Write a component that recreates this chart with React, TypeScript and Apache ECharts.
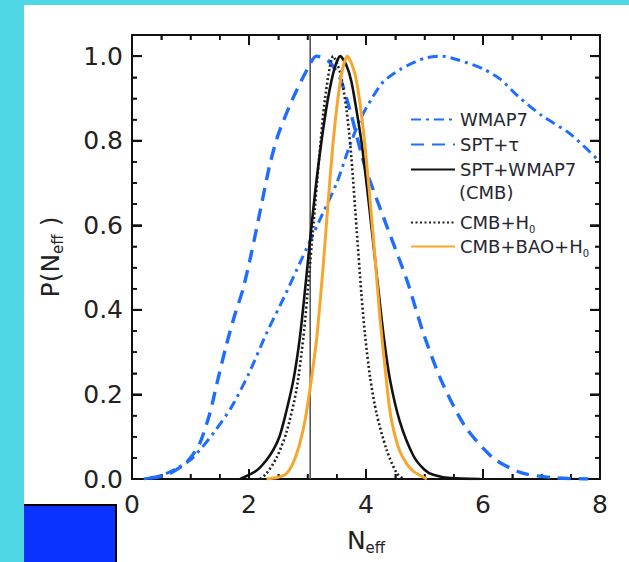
import React, { useEffect, useRef } from "react";
import * as echarts from "echarts";

// ---- data ----
const wmapX = [0.2, 0.5, 0.8, 1.0, 1.2, 1.4, 1.7, 2.0, 2.3, 2.6, 2.9, 3.2, 3.5, 3.7, 3.9, 4.1, 4.3, 4.6, 5.0, 5.3, 5.6, 6.0, 6.3, 6.6, 7.0, 7.5, 8.0];
const wmapY = [0.0, 0.008, 0.028, 0.045, 0.075, 0.11, 0.17, 0.25, 0.345, 0.43, 0.52, 0.61, 0.7, 0.78, 0.85, 0.9, 0.94, 0.97, 0.995, 1.0, 0.99, 0.97, 0.945, 0.905, 0.86, 0.815, 0.75];

const sptTauX = [0.3, 0.6, 0.85, 1.0, 1.16, 1.33, 1.45, 1.6, 1.75, 1.9, 2.05, 2.2, 2.35, 2.5, 2.75, 3.0, 3.15, 3.35, 3.55, 3.75, 3.98, 4.35, 4.7, 4.98, 5.28, 5.69, 6.17, 6.65, 7.2, 7.8];
const sptTauY = [0.002, 0.01, 0.03, 0.05, 0.085, 0.155, 0.225, 0.31, 0.385, 0.45, 0.54, 0.64, 0.74, 0.815, 0.9, 0.97, 1.0, 0.99, 0.95, 0.86, 0.74, 0.6, 0.47, 0.345, 0.235, 0.125, 0.05, 0.015, 0.003, 0.0];

const cmbX = [1.85, 2.13, 2.3, 2.42, 2.52, 2.62, 2.76, 2.87, 2.96, 3.04, 3.14, 3.24, 3.35, 3.46, 3.56, 3.66, 3.75, 3.84, 3.93, 4.05, 4.17, 4.3, 4.41, 4.58, 4.81, 5.0, 5.15, 5.44, 5.95];
const cmbY = [0, 0.02, 0.045, 0.07, 0.1, 0.15, 0.235, 0.335, 0.45, 0.56, 0.69, 0.8, 0.9, 0.97, 1.0, 0.98, 0.94, 0.87, 0.79, 0.65, 0.5, 0.34, 0.235, 0.135, 0.055, 0.022, 0.01, 0.002, 0];

const cmbH0X = [2.19, 2.3, 2.47, 2.64, 2.81, 2.93, 3.02, 3.1, 3.2, 3.3, 3.44, 3.56, 3.67, 3.75, 3.84, 3.92, 3.98, 4.07, 4.18, 4.35, 4.52, 4.64];
const cmbH0Y = [0, 0.013, 0.05, 0.11, 0.21, 0.336, 0.47, 0.6, 0.76, 0.9, 1.0, 0.96, 0.87, 0.76, 0.59, 0.44, 0.345, 0.24, 0.155, 0.07, 0.015, 0];

const baoX = [2.3, 2.5, 2.64, 2.76, 2.87, 2.96, 3.04, 3.1, 3.16, 3.26, 3.35, 3.44, 3.52, 3.6, 3.68, 3.76, 3.84, 3.95, 4.05, 4.15, 4.24, 4.32, 4.41, 4.5, 4.58, 4.7, 4.81, 5.04];
const baoY = [0, 0.004, 0.013, 0.04, 0.085, 0.14, 0.21, 0.27, 0.336, 0.49, 0.65, 0.8, 0.9, 0.97, 1.0, 0.98, 0.94, 0.83, 0.69, 0.53, 0.38, 0.27, 0.16, 0.1, 0.065, 0.035, 0.018, 0];

const refX = [3.046, 3.046];
const refY = [0, 1.05];

// tick positions of the box frame (value, 1 = major / 0 = minor)
const xTickVals = [0, 0.5, 1, 1.5, 2, 2.5, 3, 3.5, 4, 4.5, 5, 5.5, 6, 6.5, 7, 7.5, 8];
const xTickMajor = [1, 0, 0, 0, 1, 0, 0, 0, 1, 0, 0, 0, 1, 0, 0, 0, 1];
const yTickVals = [0, 0.05, 0.1, 0.15, 0.2, 0.25, 0.3, 0.35, 0.4, 0.45, 0.5, 0.55, 0.6, 0.65, 0.7, 0.75, 0.8, 0.85, 0.9, 0.95, 1.0];
const yTickMajor = [1, 0, 0, 0, 1, 0, 0, 0, 1, 0, 0, 0, 1, 0, 0, 0, 1, 0, 0, 0, 1];

const seriesNames = ["WMAP7", "SPT+τ", "SPT+WMAP7", "CMB+H0", "CMB+BAO+H0"];
const legendLabels: Record<string, string> = {
  "WMAP7": "WMAP7",
  "SPT+τ": "SPT+τ",
  "SPT+WMAP7": "SPT+WMAP7",
  "CMB+H0": "CMB+H{s|0}",
  "CMB+BAO+H0": "CMB+BAO+H{s|0}",
};

const X_MIN = 0, X_MAX = 8, X_INT = 2;
const Y_MIN = 0, Y_MAX = 1.05, Y_INT = 0.2;

const BLUE = "#1f6dff";
const ORANGE = "#f6a62c";
const FONT = "DejaVu Sans";
const TEXT = "#262630";

const zip = (xs: number[], ys: number[]) => xs.map((x, i) => [x, ys[i]]);

const makeAxisStyle = () => ({
  axisLine: { show: true, onZero: false, lineStyle: { color: "#111", width: 2 } },
  axisTick: { show: true, inside: true, length: 10, lineStyle: { color: "#111", width: 2 } },
  minorTick: { show: true, splitNumber: 4, length: 5, lineStyle: { color: "#111", width: 1.5 } },
  splitLine: { show: false },
  minorSplitLine: { show: false },
});

function mainOption() {
  const lineSeries = (name: string, xs: number[], ys: number[], color: string, width: number, type: any) => ({
    name,
    type: "line",
    data: zip(xs, ys),
    showSymbol: false,
    symbol: "none",
    smooth: 0.25,
    lineStyle: { color, width, type },
    itemStyle: { color },
  });
  const legendText = () => ({
    fontFamily: FONT,
    fontSize: 18,
    color: TEXT,
    lineHeight: 23,
    rich: {
      s: { fontSize: 10, fontFamily: FONT, color: TEXT, verticalAlign: "bottom", lineHeight: 19 },
    },
  });
  const legendCommon = () => ({
    orient: "vertical",
    left: 405,
    itemWidth: 44,
    itemHeight: 14,
    formatter: (n: string) => legendLabels[n],
    textStyle: legendText(),
    itemStyle: { color: "transparent", borderColor: "transparent", borderWidth: 0, opacity: 0 },
  });
  const nameStyle = () => ({
    fontSize: 25,
    color: "#222",
    fontFamily: FONT,
    lineHeight: 30,
    rich: { s: { fontSize: 15, fontFamily: FONT, color: "#222", verticalAlign: "bottom", lineHeight: 22 } },
  });
  const tickLine = (x1: number, y1: number, x2: number, y2: number, major: boolean) => ({
    type: "line",
    shape: { x1, y1, x2, y2 },
    style: { stroke: "#111", lineWidth: major ? 2 : 1.5 },
  });
  return {
    animation: false,
    backgroundColor: "#4fd7e5",
    textStyle: { fontFamily: FONT },
    grid: { left: 132, right: 29, top: 35, bottom: 83 },
    legend: [
      { ...legendCommon(), data: seriesNames.slice(0, 3), top: 103, itemGap: 2 },
      { ...legendCommon(), data: seriesNames.slice(3), top: 206, itemGap: 1 },
    ],
    graphic: [
      {
        type: "rect",
        z: -100,
        silent: true,
        shape: { x: 24, y: 5, width: 605, height: 557 },
        style: { fill: "#ffffff" },
      },
      {
        type: "rect",
        z: -90,
        silent: true,
        shape: { x: 24, y: 505, width: 92, height: 57 },
        style: { fill: "#0a33ff" },
      },
      {
        type: "polyline",
        z: -80,
        silent: true,
        shape: { points: [[24, 505], [116, 505], [116, 562]] },
        style: { stroke: "#000", lineWidth: 2, fill: "none" },
      },
      {
        type: "text",
        left: 459,
        top: 183,
        style: { text: "(CMB)", fontFamily: FONT, fontSize: 18, fill: TEXT },
      },
    ],
    xAxis: [
      {
        type: "value",
        min: X_MIN,
        max: X_MAX,
        interval: X_INT,
        position: "bottom",
        ...makeAxisStyle(),
        axisLabel: { show: true, margin: 13, fontSize: 25, color: "#222", fontFamily: FONT },
        name: "N{s|eff}",
        nameLocation: "middle",
        nameGap: 46,
        nameTextStyle: nameStyle(),
      },
      { type: "value", min: X_MIN, max: X_MAX, interval: X_INT, position: "top", ...makeAxisStyle(), axisLabel: { show: false } },
    ],
    yAxis: [
      {
        type: "value",
        min: Y_MIN,
        max: Y_MAX,
        interval: Y_INT,
        position: "left",
        ...makeAxisStyle(),
        axisLabel: {
          show: true,
          margin: 9,
          fontSize: 25,
          color: "#222",
          fontFamily: FONT,
          showMaxLabel: false,
          formatter: (v: number) => v.toFixed(1),
        },
        name: "P(N{s|eff} )",
        nameLocation: "middle",
        nameRotate: 90,
        nameGap: 67,
        nameTextStyle: nameStyle(),
      },
      { type: "value", min: Y_MIN, max: Y_MAX, interval: Y_INT, position: "right", ...makeAxisStyle(), axisLabel: { show: false } },
    ],
    series: [
      {
        name: "Neff=3.046",
        type: "line",
        data: zip(refX, refY),
        showSymbol: false,
        symbol: "none",
        lineStyle: { color: "#555", width: 1.6 },
        silent: true,
      },
      lineSeries("WMAP7", wmapX, wmapY, BLUE, 3, [10, 5, 3, 5]),
      lineSeries("SPT+τ", sptTauX, sptTauY, BLUE, 3.4, [13, 8]),
      lineSeries("CMB+H0", cmbH0X, cmbH0Y, "#222", 2.6, [2, 2.5]),
      lineSeries("SPT+WMAP7", cmbX, cmbY, "#111", 2.6, "solid"),
      lineSeries("CMB+BAO+H0", baoX, baoY, ORANGE, 3, "solid"),
      {
        name: "xTicks",
        type: "custom",
        silent: true,
        clip: false,
        data: zip(xTickVals, xTickMajor),
        encode: { x: 0, y: 1 },
        renderItem: (_p: any, api: any) => {
          const v = api.value(0);
          const major = api.value(1) === 1;
          const len = major ? 10 : 5;
          const b = api.coord([v, Y_MIN]);
          const t = api.coord([v, Y_MAX]);
          return {
            type: "group",
            children: [
              tickLine(b[0], b[1], b[0], b[1] - len, major),
              tickLine(t[0], t[1], t[0], t[1] + len, major),
            ],
          };
        },
      },
      {
        name: "yTicks",
        type: "custom",
        silent: true,
        clip: false,
        data: zip(yTickMajor, yTickVals),
        encode: { x: 0, y: 1 },
        renderItem: (_p: any, api: any) => {
          const v = api.value(1);
          const major = api.value(0) === 1;
          const len = major ? 10 : 5;
          const l = api.coord([X_MIN, v]);
          const r = api.coord([X_MAX, v]);
          return {
            type: "group",
            children: [
              tickLine(l[0], l[1], l[0] + len, l[1], major),
              tickLine(r[0], r[1], r[0] - len, r[1], major),
            ],
          };
        },
      },
    ],
  };
}

export default function App() {
  const ref = useRef<HTMLDivElement>(null);
  useEffect(() => {
    if (!ref.current) return;
    const chart = echarts.init(ref.current, null, { renderer: "svg" });
    chart.setOption(mainOption() as any);
    return () => chart.dispose();
  }, []);

  return <div ref={ref} style={{ position: "absolute", left: 0, top: 0, width: 629, height: 562 }} />;
}
